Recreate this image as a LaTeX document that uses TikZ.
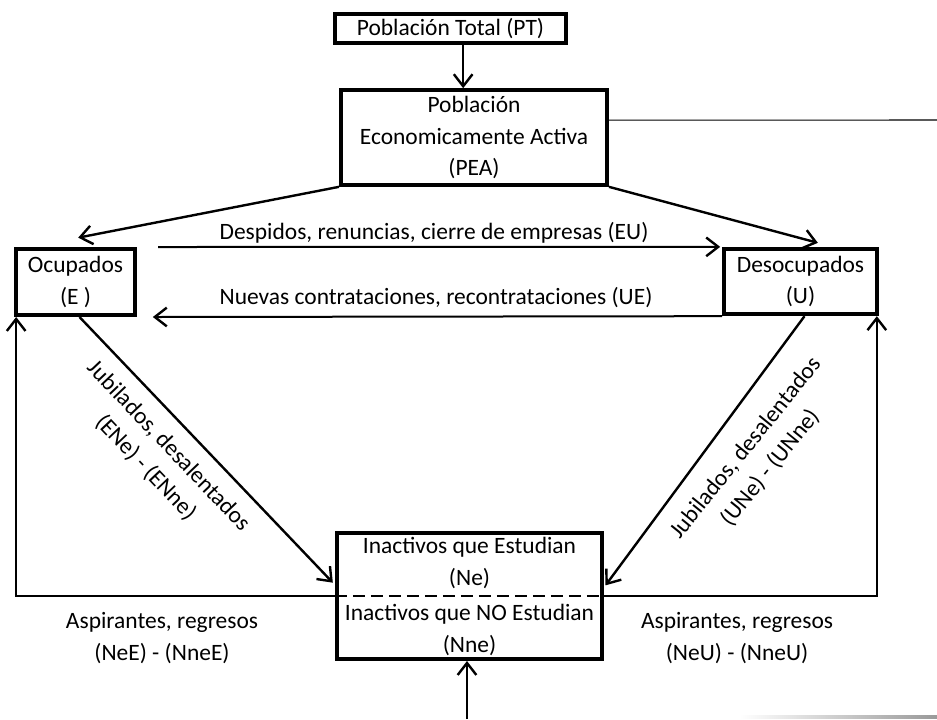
\documentclass[tikz,border=0pt]{standalone}
\usepackage{fontspec}
\setmainfont{Carlito}
\usetikzlibrary{arrows.meta, positioning, calc}
\tikzset{
  box/.style={draw, line width=3pt, minimum width=#1, inner sep=0pt},
  lbl/.style={align=center, font=\fontsize{17.6}{23.6}\selectfont},
  arr/.style={-{Straight Barb[length=9pt, width=14pt, line width=1.8pt]}, line width=1.8pt},
  flow/.style={-{Straight Barb[length=9pt, width=14pt, line width=1.8pt]}, line width=1.5pt},
}

\begin{document}
\begin{tikzpicture}[x=0.75pt, y=-0.75pt, every node/.style={lbl}]
    \useasboundingbox (0,0) rectangle (937,719);
    % boxes
    \node[box=173pt, minimum height=22pt] (pt) at (450.5,28.5) {Población Total (PT)};
    \node[box=199.5pt, minimum height=71pt] (pea) at (474,137.5) {Población\\Economicamente Activa\\(PEA)};
    \node[box=89pt, minimum height=49.5pt] (ocup) at (75.5,282) {Ocupados\\(E )};
    \node[box=114.5pt, minimum height=49pt] (desoc) at (800.5,281.5) {Desocupados\\(U)};
    \node[box=199pt, minimum height=94.5pt] (inact) at (469.5,596) {};
    \node (ne) at (469.5,563) {Inactivos que Estudian\\(Ne)};
    \node (nne) at (469.5,630) {Inactivos que NO Estudian\\(Nne)};
    \draw[line width=2.2pt, dash pattern=on 9pt off 4.5pt] (inact.west) -- (inact.east);
    \coordinate (edge) at (937,120);
    \coordinate (src) at (467,719);
    % arrows
    \draw[arr] ([xshift=9.5pt]pt.south) -- ([xshift=9.5pt]pt.south |- pea.north);
    \draw[line width=0.8pt] ([yshift=13pt]pea.east) -- (edge);
    \draw[arr] (pea.south west) -- ([xshift=2pt, yshift=7pt]ocup.north);
    \draw[arr] (pea.south east) -- ([xshift=13pt, yshift=3pt]desoc.north);
    \draw[flow] ([xshift=16pt]ocup.north east) -- ([xshift=-1.5pt]desoc.north west);
    \draw[flow] (desoc.south west) -- ([xshift=12pt]ocup.south east);
    \draw[arr] ([xshift=3pt]ocup.south) -- ([xshift=-1.5pt, yshift=10pt]inact.west);
    \draw[arr] ([xshift=3pt]desoc.south) -- ([xshift=1pt, yshift=8pt]inact.east);
    \draw[arr] (inact.west) -| ([xshift=1.5pt]ocup.south west);
    \draw[arr] (inact.east) -| ([xshift=-1.5pt]desoc.south east);
    \draw[arr] (src) -- (src |- inact.south);
    % labels
    \node (eu) at (434,233) {Despidos, renuncias, cierre de empresas (EU)};
    \node (ue) at (436,298) {Nuevas contrataciones, recontrataciones (UE)};
    \node[rotate=-46.5] (ene) at (157,457) {Jubilados, desalentados\\(ENe) - (ENne)};
    \node[rotate=51] (une) at (758,458) {Jubilados, desalentados\\(UNe) - (UNne)};
    \node (nee) at (162,638) {Aspirantes, regresos\\(NeE) - (NneE)};
    \node (neu) at (737,638) {Aspirantes, regresos\\(NeU) - (NneU)};
    \shade[left color=white, right color=gray!80] (740,715.5) rectangle (937,718);
\end{tikzpicture}
\end{document}
